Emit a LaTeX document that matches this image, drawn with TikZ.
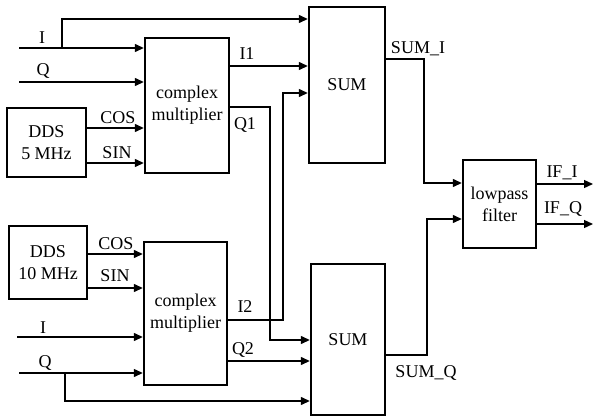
\documentclass[tikz,border=0pt]{standalone}
\usepackage{fontspec}
\setmainfont{Liberation Serif}
\usetikzlibrary{arrows.meta}
\tikzset{blk/.style={draw,line width=2.4pt,inner sep=0pt,align=center},
	sig/.style={line width=1.3pt,-{Triangle[length=9pt,width=8pt]}}}
\begin{document}
\begin{tikzpicture}[x=1pt,y=-1pt,line join=miter,font=\fontsize{18}{22}\selectfont]
			\useasboundingbox (0,0) rectangle (595,418);
			% blocks
			\node[blk,minimum width=84pt,minimum height=135pt] (mult1) at (187,105.5) {complex\\multiplier};
			\node[blk,minimum width=79pt,minimum height=69pt] (dds1) at (46.5,142.5) {DDS\\5 MHz};
			\node[blk,minimum width=83pt,minimum height=143pt] (mult2) at (185.5,313.5) {complex\\multiplier};
			\node[blk,minimum width=78pt,minimum height=73pt] (dds2) at (48,262.5) {DDS\\10 MHz};
			\node[blk,minimum width=76pt,minimum height=156pt] (sum1) at (347,85) {SUM};
			\node[blk,minimum width=74pt,minimum height=151pt] (sum2) at (348,339.5) {SUM};
			\node[blk,minimum width=73pt,minimum height=88pt] (lpf) at (499.5,204) {lowpass\\filter};
			% wire points
			\coordinate (iA)at(19,48);
			\coordinate (iAbr)at(62,48);
			\coordinate (iAtop)at(62,19);
			\coordinate (qA)at(19,82);
			\coordinate (cosA)at(115,128);
			\coordinate (sinA)at(115,163);
			\coordinate (i1)at(260,66);
			\coordinate (q1)at(270,107);
			\coordinate (q1low)at(270,340);
			\coordinate (i2)at(283,320);
			\coordinate (i2up)at(283,93);
			\coordinate (cosB)at(115,254);
			\coordinate (sinB)at(115,288);
			\coordinate (iB)at(17,337);
			\coordinate (qB)at(19,373);
			\coordinate (qBbr)at(65,373);
			\coordinate (qBlow)at(65,401);
			\coordinate (q2)at(260,361);
			\coordinate (sumi)at(424,59);
			\coordinate (sumilow)at(424,183);
			\coordinate (sumq)at(427,355);
			\coordinate (sumqup)at(427,219);
			\coordinate (ifi)at(593,184);
			\coordinate (ifq)at(593,224);
			% connections
			\draw[sig] (iA) -- (mult1.west |- iA);
			\draw[sig] (iAbr) -- (iAtop) -- (sum1.west |- iAtop);
			\draw[sig] (qA) -- (mult1.west |- qA);
			\draw[sig] (dds1.east |- cosA) -- (mult1.west |- cosA);
			\draw[sig] (dds1.east |- sinA) -- (mult1.west |- sinA);
			\draw[sig] (mult1.east |- i1) -- (sum1.west |- i1);
			\draw[sig] (mult1.east |- q1) -- (q1) -- (q1low) -- (sum2.west |- q1low);
			\draw[sig] (dds2.east |- cosB) -- (mult2.west |- cosB);
			\draw[sig] (dds2.east |- sinB) -- (mult2.west |- sinB);
			\draw[sig] (mult2.east |- i2) -- (i2) -- (i2up) -- (sum1.west |- i2up);
			\draw[sig] (iB) -- (mult2.west |- iB);
			\draw[sig] (qB) -- (mult2.west |- qB);
			\draw[sig] (qBbr) -- (qBlow) -- (sum2.west |- qBlow);
			\draw[sig] (mult2.east |- q2) -- (sum2.west |- q2);
			\draw[sig] (sum1.east |- sumi) -- (sumi) -- (sumilow) -- (lpf.west |- sumilow);
			\draw[sig] (sum2.east |- sumq) -- (sumq) -- (sumqup) -- (lpf.west |- sumqup);
			\draw[sig] (lpf.east |- ifi) -- (ifi);
			\draw[sig] (lpf.east |- ifq) -- (ifq);
			% labels
			\node (tIA) at (42,38) {I};
			\node (tQA) at (43,71) {Q};
			\node (tcosA) at (118,118) {COS};
			\node (tsinA) at (117,153) {SIN};
			\node (tI1) at (247,54) {I1};
			\node (tQ1) at (245,125) {Q1};
			\node (tcosB) at (116,244) {COS};
			\node (tsinB) at (115,276) {SIN};
			\node (tI2) at (245,307) {I2};
			\node (tIB) at (43,328) {I};
			\node (tQB) at (45,363) {Q};
			\node (tQ2) at (243,350) {Q2};
			\node (tsumi) at (418,49) {SUM\_I};
			\node (tsumq) at (426,373) {SUM\_Q};
			\node (tifi) at (562,173) {IF\_I};
			\node (tifq) at (563,209) {IF\_Q};
	\end{tikzpicture}
\end{document}
